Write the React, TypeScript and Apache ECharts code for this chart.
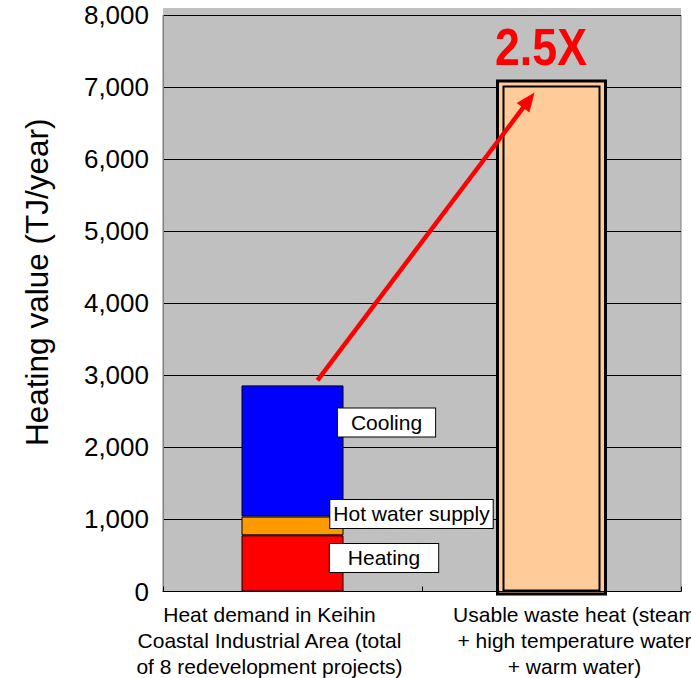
import React, { useEffect, useRef } from 'react';
import * as echarts from 'echarts';

const categories = [
  'Heat demand in Keihin\nCoastal Industrial Area (total\nof 8 redevelopment projects)',
  'Usable waste heat (steam\n+ high temperature water\n+ warm water)',
];
const heating: (number | string)[] = [780, '-'];
const hotWater: (number | string)[] = [260, '-'];
const cooling: (number | string)[] = [1820, '-'];
const wasteHeat: (number | string)[] = ['-', 7020];
const yMin = 0;
const yMax = 8000;
const yStep = 1000;
const ratioText = '2.5X';
const yTitle = 'Heating value (TJ/year)';

const FONT = '"Liberation Sans", Arial, sans-serif';

export default function App() {
  const ref = useRef<HTMLDivElement>(null);
  useEffect(() => {
    const chart = echarts.init(ref.current!, null, { renderer: 'svg' });
    const seriesLabel = (offset: number[], padding: number[]) => ({
      show: true,
      position: 'inside',
      offset,
      formatter: '{a}',
      fontFamily: FONT,
      fontSize: 21,
      lineHeight: 22,
      color: '#000',
      backgroundColor: '#fff',
      borderColor: '#000',
      borderWidth: 1,
      padding,
    });
    const barStyle = (color: string) => ({ color, borderColor: '#000', borderWidth: 1 });
    chart.setOption({
      animation: false,
      backgroundColor: '#fff',
      textStyle: { fontFamily: FONT },
      grid: {
        left: 163,
        right: 10,
        top: 15,
        bottom: 86.5,
        containLabel: false,
        outerBoundsMode: 'none',
        show: true,
        backgroundColor: '#c0c0c0',
        borderColor: '#808080',
        borderWidth: 1,
      },
      xAxis: [
        {
          type: 'category',
          data: [
            { value: categories[0], textStyle: { padding: [0, 46, 0, 0] } },
            { value: categories[1], textStyle: { padding: [0, 0, 0, 46] } },
          ],
          axisLine: { show: true, lineStyle: { color: '#000', width: 1 } },
          axisTick: { show: true, inside: true, length: 5, lineStyle: { color: '#000' } },
          axisLabel: {
            interval: 0,
            fontFamily: FONT,
            fontSize: 21,
            lineHeight: 26,
            color: '#000',
            margin: 10,
          },
          splitLine: { show: false },
          z: 3,
        },
        {
          type: 'category',
          data: categories,
          show: false,
        },
      ],
      yAxis: {
        type: 'value',
        min: yMin,
        max: yMax,
        interval: yStep,
        name: yTitle,
        nameLocation: 'middle',
        nameRotate: 90,
        nameGap: 110,
        nameTextStyle: { fontFamily: FONT, fontSize: 31.5, color: '#000', padding: [0, 0, 0, 42] },
        axisLine: { show: true, lineStyle: { color: '#808080' } },
        axisTick: { show: false },
        axisLabel: {
          fontFamily: FONT,
          fontSize: 26,
          color: '#000',
          margin: 14,
          formatter: (v: number) => v.toLocaleString('en-US'),
        },
        splitLine: { show: true, lineStyle: { color: '#000', width: 1 } },
      },
      series: [
        {
          name: 'Heating',
          type: 'bar',
          stack: 'demand',
          xAxisIndex: 0,
          barWidth: 102,
          data: heating,
          itemStyle: barStyle('#ff0000'),
          label: seriesLabel([91.5, -5.5], [3, 18, 3, 18]),
          z: 2,
        },
        {
          name: 'Hot water supply',
          type: 'bar',
          stack: 'demand',
          xAxisIndex: 0,
          barWidth: 102,
          data: hotWater,
          itemStyle: barStyle('#ff9900'),
          label: seriesLabel([119, -12], [3, 3, 3, 3]),
          z: 2,
        },
        {
          name: 'Cooling',
          type: 'bar',
          stack: 'demand',
          xAxisIndex: 0,
          barWidth: 102,
          data: cooling,
          itemStyle: barStyle('#0000ff'),
          label: seriesLabel([94, -28.5], [3, 13, 3, 13]),
          z: 2,
        },
        {
          name: 'Usable waste heat',
          type: 'bar',
          xAxisIndex: 1,
          barWidth: 98,
          data: wasteHeat,
          itemStyle: { color: '#ffcc99', borderColor: '#000', borderWidth: 2 },
          z: 2,
        },
      ],
    });

    const demandTotal = (heating[0] as number) + (hotWater[0] as number) + (cooling[0] as number);
    const p1 = chart.convertToPixel({ xAxisIndex: 0, yAxisIndex: 0 }, [0, demandTotal]) as number[];
    const p2 = chart.convertToPixel({ xAxisIndex: 1, yAxisIndex: 0 }, [1, wasteHeat[1] as number]) as number[];
    const zeroY = chart.convertToPixel({ yAxisIndex: 0 }, 0) as number;
    const topY = chart.convertToPixel({ yAxisIndex: 0 }, yMax) as number;

    const start = [p1[0] + 25, p1[1] - 5];
    const tip = [p2[0] - 17, p2[1] + 7];
    const dx = tip[0] - start[0];
    const dy = tip[1] - start[1];
    const len = Math.sqrt(dx * dx + dy * dy);
    const ux = dx / len;
    const uy = dy / len;
    const headLen = 19;
    const headHalf = 8;
    const base = [tip[0] - ux * headLen, tip[1] - uy * headLen];
    const px = -uy;
    const py = ux;

    chart.setOption({
      graphic: [
        {
          type: 'rect',
          z: 1,
          shape: { x: 163, y: topY - 7, width: 518, height: 7 },
          style: { fill: '#c0c0c0' },
        },
        {
          type: 'rect',
          z: 1,
          shape: { x: p2[0] - 54, y: p2[1] - 4.5, width: 108, height: zeroY + 2.5 - (p2[1] - 4.5) },
          style: { fill: '#ffcc99', stroke: '#000', lineWidth: 3 },
        },
        {
          type: 'line',
          z: 10,
          shape: { x1: start[0], y1: start[1], x2: base[0] + ux * 2, y2: base[1] + uy * 2 },
          style: { stroke: '#ff0000', lineWidth: 4.5 },
        },
        {
          type: 'polygon',
          z: 10,
          shape: {
            points: [
              tip,
              [base[0] + px * headHalf, base[1] + py * headHalf],
              [base[0] - px * headHalf, base[1] - py * headHalf],
            ],
          },
          style: { fill: '#ff0000' },
        },
        {
          type: 'text',
          z: 10,
          x: 541,
          y: 47,
          scaleX: 0.86,
          style: {
            text: ratioText,
            fill: '#ff0000',
            fontFamily: FONT,
            fontWeight: 'bold',
            fontSize: 52,
            textAlign: 'center',
            textVerticalAlign: 'middle',
          },
        },
      ],
    });
    return () => chart.dispose();
  }, []);
  return (
    <div
      ref={ref}
      style={{ position: 'fixed', left: 0, top: 0, width: 691, height: 678 }}
    />
  );
}
